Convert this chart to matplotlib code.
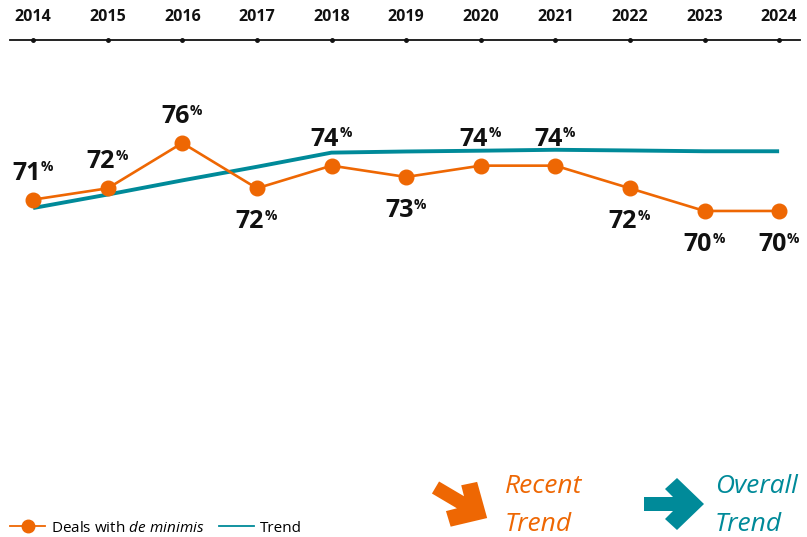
import numpy as np
import matplotlib
matplotlib.use("Agg")
import matplotlib.pyplot as plt
from matplotlib.patches import Polygon
from matplotlib.lines import Line2D

plt.rcParams['font.family'] = ['Open Sans', 'DejaVu Sans']
plt.rcParams['mathtext.fontset'] = 'custom'
plt.rcParams['mathtext.it'] = 'Open Sans:italic'
plt.rcParams['mathtext.rm'] = 'Open Sans'

years = [2014, 2015, 2016, 2017, 2018, 2019, 2020, 2021, 2022, 2023, 2024]
deals = [71, 72, 76, 72, 74, 73, 74, 74, 72, 70, 70]
trend = [70.26, 71.45, 72.7, 73.9, 75.15, 75.25, 75.32, 75.4, 75.34, 75.27, 75.27]
label_pos = ['above', 'above', 'above', 'below', 'above', 'below', 'above', 'above', 'below', 'below', 'below']

ORANGE = '#EE6703'
TEAL = '#008A99'

W, H = 807, 537
fig = plt.figure(figsize=(W / 100, H / 100), dpi=100)

# overlay in pixel coordinates for decorative arrows
ov = fig.add_axes([0, 0, 1, 1])
ov.set_xlim(0, W)
ov.set_ylim(H, 0)
ov.axis('off')

ax = fig.add_axes([10 / W, (H - 460) / H, 790 / W, 420 / H])
ax.set_xlim(2013.69, 2024.28)
ax.set_ylim(48.02, 85.09)
ax.patch.set_alpha(0)
for s in ['left', 'right', 'bottom']:
    ax.spines[s].set_visible(False)
ax.spines['top'].set_linewidth(1.3)
ax.spines['top'].set_color('#111111')
ax.set_yticks([])
ax.xaxis.tick_top()
ax.set_xticks(years)
ax.set_xticklabels([str(y) for y in years], fontsize=11.5, fontweight='bold', color='#111111')
ax.tick_params(axis='x', length=0, pad=11)
ax.plot(years, [ax.get_ylim()[1]] * len(years), 'o', color='#111111', ms=2.5,
        clip_on=False, zorder=5)

ax.plot(years, trend, color=TEAL, lw=2.8, solid_capstyle='butt', zorder=2, label='Trend')
ax.plot(years, deals, color=ORANGE, lw=1.9, marker='o', ms=10.5, zorder=3,
        label=r'Deals with $\it{de\ minimis}$')

for x, v, pos in zip(years, deals, label_pos):
    dy = 14.4 if pos == 'above' else -28.8
    ax.annotate(f'{v}', (x, v), xytext=(-5.0, dy), textcoords='offset points',
                ha='center', va='baseline', fontsize=18, fontweight='bold', color='#111111')
    ax.annotate('%', (x, v), xytext=(5.6, dy + 6.0), textcoords='offset points',
                ha='left', va='baseline', fontsize=10, fontweight='bold', color='#111111')

handles = [Line2D([], [], color=ORANGE, lw=1.3, marker='o', ms=9),
           Line2D([], [], color=TEAL, lw=1.3)]
labels = [r'Deals with $\it{de\ minimis}$', 'Trend']
fig.legend(handles, labels, loc='center left', bbox_to_anchor=(10 / W, 1 - 528 / H),
           ncol=2, frameon=False, fontsize=11, handlelength=2.3, handletextpad=0.4,
           columnspacing=0.9, borderpad=0, borderaxespad=0)

# decorative arrows
shape = np.array([(0, -7), (29, -7), (21, -15), (33, -26), (60, 0), (33, 26),
                  (21, 15), (29, 7), (0, 7)], dtype=float)

def arrow(tail, ang_deg, color):
    a = np.deg2rad(ang_deg)
    R = np.array([[np.cos(a), -np.sin(a)], [np.sin(a), np.cos(a)]])
    pts = shape @ R.T + np.array(tail)
    ov.add_patch(Polygon(pts, closed=True, facecolor=color, edgecolor='none'))

arrow((435.5, 487.5), 30.6, ORANGE)
arrow((644, 504), 0, TEAL)

fig.text(505 / W, 1 - 493 / H, 'Recent', ha='left', va='baseline', fontsize=19,
         style='italic', color=ORANGE)
fig.text(505 / W, 1 - 531 / H, 'Trend', ha='left', va='baseline', fontsize=19,
         style='italic', color=ORANGE)
fig.text(715 / W, 1 - 493 / H, 'Overall', ha='left', va='baseline', fontsize=19,
         style='italic', color=TEAL)
fig.text(715 / W, 1 - 531 / H, 'Trend', ha='left', va='baseline', fontsize=19,
         style='italic', color=TEAL)

fig.savefig('out.png', dpi=100)
